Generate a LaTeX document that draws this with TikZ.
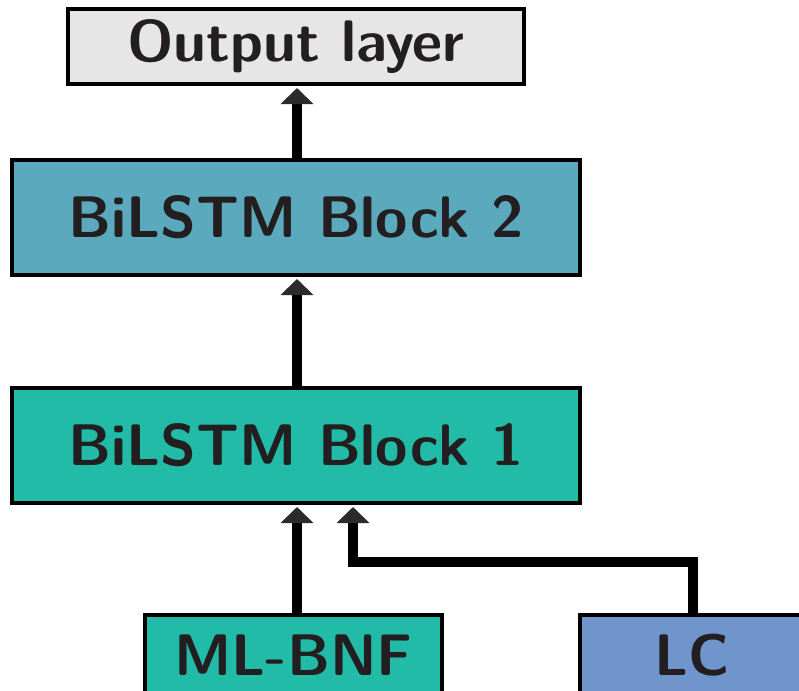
\documentclass[tikz,border=0pt]{standalone}
\usepackage{tikz}
\usepackage{xcolor}
\usetikzlibrary{arrows.meta}

\definecolor{outgray}{HTML}{E6E6E6}
\definecolor{blocktwo}{HTML}{5BA9BD}
\definecolor{blockone}{HTML}{21BBA8}
\definecolor{lcblue}{HTML}{7094CC}
\definecolor{txtgray}{HTML}{231F20}
\definecolor{tipgray}{HTML}{2B2B2B}

\begin{document}
\begin{tikzpicture}
		[x=1bp,y=-1bp,
		layer/.style= {draw=black,line width=4bp,inner sep=0pt,text=txtgray,
			font=\fontsize{58.6bp}{70bp}\selectfont\sffamily\bfseries},
		feed/.style= {line width=10bp,draw=black,
			-{Triangle[width=32bp,length=16bp,color=tipgray]}}]

		\useasboundingbox (0,0) rectangle (799,691);
		\clip (0,0) rectangle (799,691);

		\node[layer,fill=outgray,minimum width=456bp,minimum height=75bp] (out) at (296,46.5) {Output layer};
		\node[layer,fill=blocktwo,minimum width=568bp,minimum height=115bp] (b2) at (296,217.5) {BiLSTM Block 2};
		\node[layer,fill=blockone,minimum width=568bp,minimum height=115bp] (b1) at (296,445.5) {BiLSTM Block 1};
		\node[layer,fill=blockone,minimum width=297bp,minimum height=80bp] (bnf) at (293.5,655) {ML-BNF};
		\node[layer,fill=lcblue,minimum width=224bp,minimum height=80bp] (lc) at (692,655) {LC};

		% corner of the LC feed
		\coordinate (lcup) at (693,562);
		\coordinate (lcin) at (353,562);

		\draw[feed] (b1.north -| 297,0) -- ([yshift=-2bp]b2.south -| 297,0);
		\draw[feed] (b2.north -| 297,0) -- ([yshift=-2bp]out.south -| 297,0);
		\draw[feed] (bnf.north -| 297,0) -- ([yshift=-2bp]b1.south -| 297,0);
		\draw[feed] (lc.north -| lcup) -- (lcup) -- (lcin) -- ([yshift=-2bp]b1.south -| lcin);

	\end{tikzpicture}
\end{document}
